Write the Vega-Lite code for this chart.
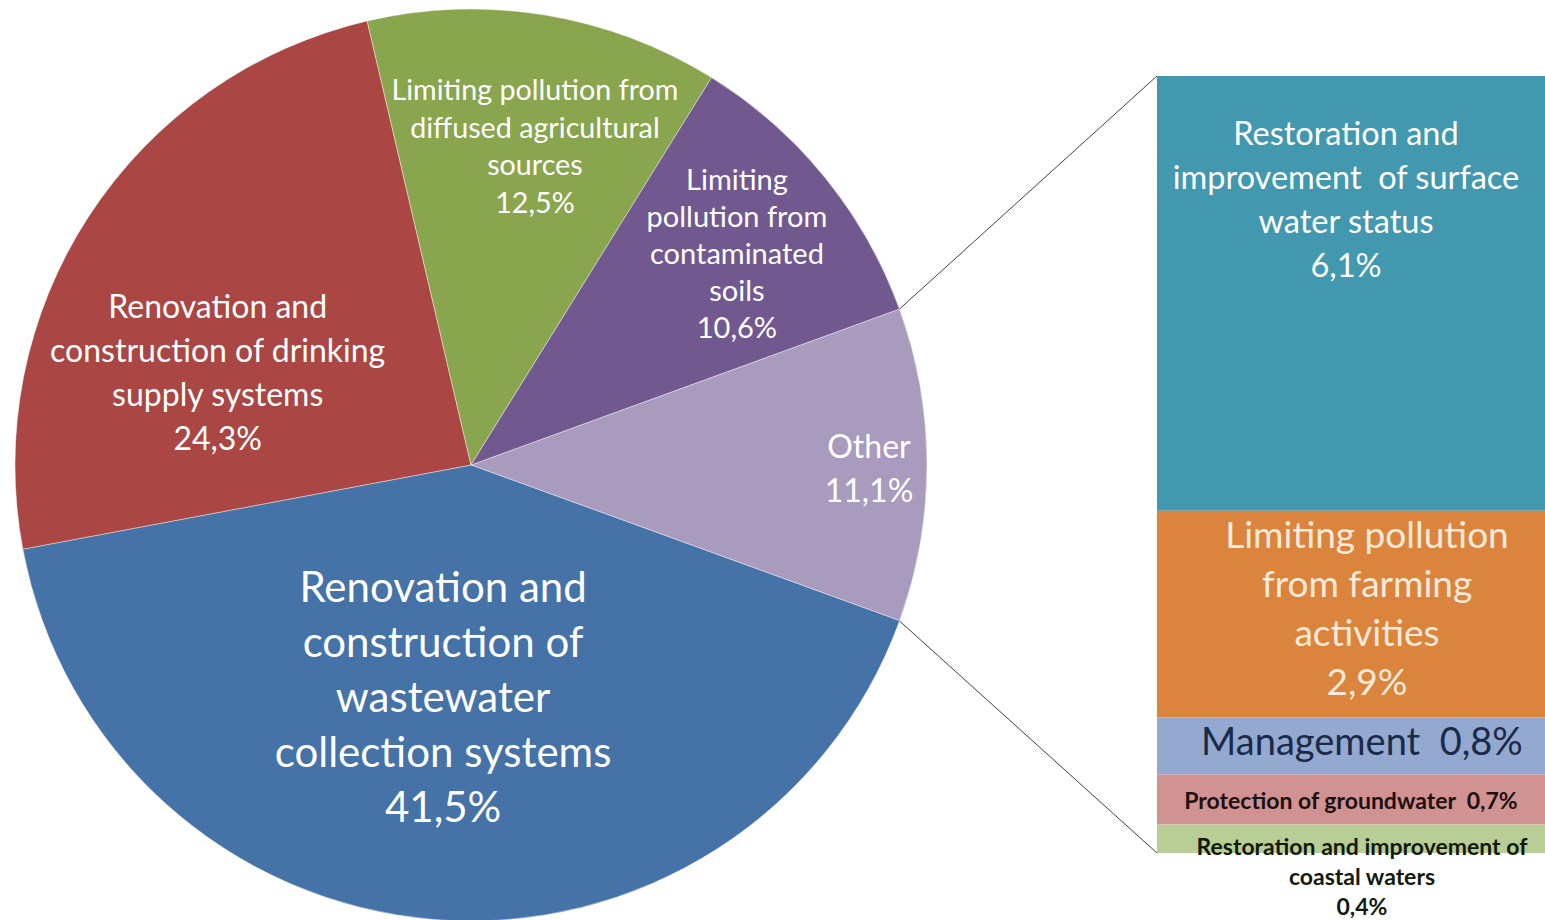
{
  "$schema": "https://vega.github.io/schema/vega-lite/v6.json",
  "width": 1545,
  "height": 920,
  "padding": 0,
  "autosize": {"type": "none"},
  "background": "white",
  "config": {"view": {"stroke": null}, "font": "Lato"},
  "datasets": {
    "pie": [
      {"category": "Other", "value": 11.1, "order": 1, "label": "Other\n11,1%"},
      {"category": "Renovation and construction of wastewater collection systems", "value": 41.5, "order": 2, "label": "Renovation and\nconstruction of\nwastewater\ncollection systems\n41,5%"},
      {"category": "Renovation and construction of drinking supply systems", "value": 24.3, "order": 3, "label": "Renovation and\nconstruction of drinking\nsupply systems\n24,3%"},
      {"category": "Limiting pollution from diffused agricultural sources", "value": 12.5, "order": 4, "label": "Limiting pollution from\ndiffused agricultural\nsources\n12,5%"},
      {"category": "Limiting pollution from contaminated soils", "value": 10.6, "order": 5, "label": "Limiting\npollution from\ncontaminated\nsoils\n10,6%"}
    ],
    "bar": [
      {"category": "Restoration and improvement of surface water status", "value": 6.1, "order": 5, "label": "Restoration and\nimprovement \u00a0of surface\nwater status\n6,1%"},
      {"category": "Limiting pollution from farming activities", "value": 2.9, "order": 4, "label": "Limiting pollution\nfrom farming\nactivities\n2,9%"},
      {"category": "Management", "value": 0.8, "order": 3, "label": "Management \u00a00,8%"},
      {"category": "Protection of groundwater", "value": 0.7, "order": 2, "label": "Protection of groundwater \u00a00,7%"},
      {"category": "Restoration and improvement of coastal waters", "value": 0.4, "order": 1, "label": "Restoration and improvement of\ncoastal waters\n0,4%"}
    ]
  },
  "layer": [
    {
      "data": {"name": "pie"},
      "encoding": {
        "x": {"datum": 0, "type": "quantitative", "scale": {"domain": [-1.0329, 2.3553], "nice": false, "zero": false}, "axis": null},
        "y": {"datum": 0, "type": "quantitative", "scale": {"domain": [-0.9978, 1.0197], "nice": false, "zero": false}, "axis": null},
        "theta": {"field": "value", "type": "quantitative", "stack": true, "scale": {"range": [1.22173, 7.50492]}},
        "order": {"field": "order", "type": "quantitative"}
      },
      "layer": [
        {
          "mark": {"type": "arc", "radius": 456, "stroke": "#ffffff", "strokeWidth": 0.6, "strokeOpacity": 0.7},
          "encoding": {
            "color": {
              "field": "category", "type": "nominal", "legend": null,
              "scale": {
                "domain": ["Other", "Renovation and construction of wastewater collection systems", "Renovation and construction of drinking supply systems", "Limiting pollution from diffused agricultural sources", "Limiting pollution from contaminated soils", "Restoration and improvement of surface water status", "Limiting pollution from farming activities", "Management", "Protection of groundwater", "Restoration and improvement of coastal waters"],
                "range": ["#A99BBD", "#4572A7", "#AA4643", "#89A54E", "#71588F", "#4198AF", "#DB843D", "#93A9CF", "#D19392", "#B9CD96"]
              }
            }
          }
        },
        {
          "mark": {"type": "text", "radius": 398, "dy": -17, "fontSize": 32, "lineHeight": 44, "lineBreak": "\n", "align": "center", "baseline": "middle", "fill": "#FFFFFF"},
          "encoding": {"detail": {"field": "category"}, "text": {"condition": {"test": "datum.category === 'Other'", "field": "label"}, "value": ""}}
        },
        {
          "mark": {"type": "text", "radius": 233, "dx": -9, "dy": -108, "fontSize": 42, "lineHeight": 55, "lineBreak": "\n", "align": "center", "baseline": "middle", "fill": "#FFFFFF"},
          "encoding": {"detail": {"field": "category"}, "text": {"condition": {"test": "datum.order === 2", "field": "label"}, "value": ""}}
        },
        {
          "mark": {"type": "text", "radius": 263, "dx": -33, "dy": -13, "fontSize": 32, "lineHeight": 44, "lineBreak": "\n", "align": "center", "baseline": "middle", "fill": "#FFFFFF"},
          "encoding": {"detail": {"field": "category"}, "text": {"condition": {"test": "datum.order === 3", "field": "label"}, "value": ""}}
        },
        {
          "mark": {"type": "text", "radius": 326, "dx": 11, "dy": -52, "fontSize": 28.7, "lineHeight": 37.5, "lineBreak": "\n", "align": "center", "baseline": "middle", "fill": "#FFFFFF"},
          "encoding": {"detail": {"field": "category"}, "text": {"condition": {"test": "datum.order === 4", "field": "label"}, "value": ""}}
        },
        {
          "mark": {"type": "text", "radius": 340, "dx": 2, "dy": -70, "fontSize": 29, "lineHeight": 37, "lineBreak": "\n", "align": "center", "baseline": "middle", "fill": "#FFFFFF"},
          "encoding": {"detail": {"field": "category"}, "text": {"condition": {"test": "datum.order === 5", "field": "label"}, "value": ""}}
        },
        {
          "data": {"values": [{"link": "top"}]},
          "mark": {"type": "rule", "color": "#404040", "strokeWidth": 1},
          "encoding": {
            "x": {"datum": 0.9397, "type": "quantitative", "scale": {"domain": [-1.0329, 2.3553], "nice": false, "zero": false}, "axis": null},
            "y": {"datum": 0.342, "type": "quantitative", "scale": {"domain": [-0.9978, 1.0197], "nice": false, "zero": false}, "axis": null},
            "x2": {"datum": 1.5044},
            "y2": {"datum": 0.8531},
            "theta": null,
            "order": null
          }
        },
        {
          "data": {"values": [{"link": "bottom"}]},
          "mark": {"type": "rule", "color": "#404040", "strokeWidth": 1},
          "encoding": {
            "x": {"datum": 0.9397, "type": "quantitative", "scale": {"domain": [-1.0329, 2.3553], "nice": false, "zero": false}, "axis": null},
            "y": {"datum": -0.342, "type": "quantitative", "scale": {"domain": [-0.9978, 1.0197], "nice": false, "zero": false}, "axis": null},
            "x2": {"datum": 1.5044},
            "y2": {"datum": -0.8509},
            "theta": null,
            "order": null
          }
        }
      ]
    },
    {
      "data": {"name": "bar"},
      "transform": [
        {"stack": "value", "groupby": [], "sort": [{"field": "order", "order": "ascending"}], "as": ["y0", "y1"]}
      ],
      "layer": [
        {
          "mark": {"type": "rect"},
          "encoding": {
            "x": {"datum": 1.5044, "type": "quantitative", "scale": {"domain": [-1.0329, 2.3553], "nice": false, "zero": false}, "axis": null},
            "x2": {"datum": 2.3553},
            "y": {"field": "y0", "type": "quantitative", "scale": {"domain": [-0.94, 11.967], "nice": false, "zero": false}, "axis": null},
            "y2": {"field": "y1"},
            "color": {
              "field": "category", "type": "nominal", "legend": null,
              "scale": {
                "domain": ["Other", "Renovation and construction of wastewater collection systems", "Renovation and construction of drinking supply systems", "Limiting pollution from diffused agricultural sources", "Limiting pollution from contaminated soils", "Restoration and improvement of surface water status", "Limiting pollution from farming activities", "Management", "Protection of groundwater", "Restoration and improvement of coastal waters"],
                "range": ["#A99BBD", "#4572A7", "#AA4643", "#89A54E", "#71588F", "#4198AF", "#DB843D", "#93A9CF", "#D19392", "#B9CD96"]
              }
            }
          }
        },
        {
          "transform": [{"filter": "datum.order === 5"}],
          "mark": {"type": "text", "dx": -5, "dy": 59, "fontSize": 32.5, "lineHeight": 44, "lineBreak": "\n", "align": "center", "baseline": "middle", "fill": "#FFFFFF"},
          "encoding": {
            "x": {"datum": 1.9298, "type": "quantitative", "scale": {"domain": [-1.0329, 2.3553], "nice": false, "zero": false}, "axis": null},
            "y": {"field": "y1", "type": "quantitative", "scale": {"domain": [-0.94, 11.967], "nice": false, "zero": false}, "axis": null},
            "text": {"field": "label"}
          }
        },
        {
          "transform": [{"filter": "datum.order === 4"}],
          "mark": {"type": "text", "dx": 16, "dy": 26, "fontSize": 37, "lineHeight": 49, "lineBreak": "\n", "align": "center", "baseline": "middle", "fill": "#FDEADA"},
          "encoding": {
            "x": {"datum": 1.9298, "type": "quantitative", "scale": {"domain": [-1.0329, 2.3553], "nice": false, "zero": false}, "axis": null},
            "y": {"field": "y1", "type": "quantitative", "scale": {"domain": [-0.94, 11.967], "nice": false, "zero": false}, "axis": null},
            "text": {"field": "label"}
          }
        },
        {
          "transform": [{"filter": "datum.order === 3"}],
          "mark": {"type": "text", "dx": 11, "dy": 26, "fontSize": 38, "align": "center", "baseline": "middle", "fill": "#1B2A48"},
          "encoding": {
            "x": {"datum": 1.9298, "type": "quantitative", "scale": {"domain": [-1.0329, 2.3553], "nice": false, "zero": false}, "axis": null},
            "y": {"field": "y1", "type": "quantitative", "scale": {"domain": [-0.94, 11.967], "nice": false, "zero": false}, "axis": null},
            "text": {"field": "label"}
          }
        },
        {
          "transform": [{"filter": "datum.order === 2"}],
          "mark": {"type": "text", "dx": 0, "dy": 27, "fontSize": 23, "fontWeight": "bold", "align": "center", "baseline": "middle", "fill": "#1E1010"},
          "encoding": {
            "x": {"datum": 1.9298, "type": "quantitative", "scale": {"domain": [-1.0329, 2.3553], "nice": false, "zero": false}, "axis": null},
            "y": {"field": "y1", "type": "quantitative", "scale": {"domain": [-0.94, 11.967], "nice": false, "zero": false}, "axis": null},
            "text": {"field": "label"}
          }
        },
        {
          "transform": [{"filter": "datum.order === 1"}],
          "mark": {"type": "text", "dx": 11, "dy": 24, "fontSize": 23, "fontWeight": "bold", "lineHeight": 30, "lineBreak": "\n", "align": "center", "baseline": "middle", "fill": "#121A0C"},
          "encoding": {
            "x": {"datum": 1.9298, "type": "quantitative", "scale": {"domain": [-1.0329, 2.3553], "nice": false, "zero": false}, "axis": null},
            "y": {"field": "y1", "type": "quantitative", "scale": {"domain": [-0.94, 11.967], "nice": false, "zero": false}, "axis": null},
            "text": {"field": "label"}
          }
        }
      ]
    }
  ],
  "resolve": {"scale": {"y": "independent"}}
}
